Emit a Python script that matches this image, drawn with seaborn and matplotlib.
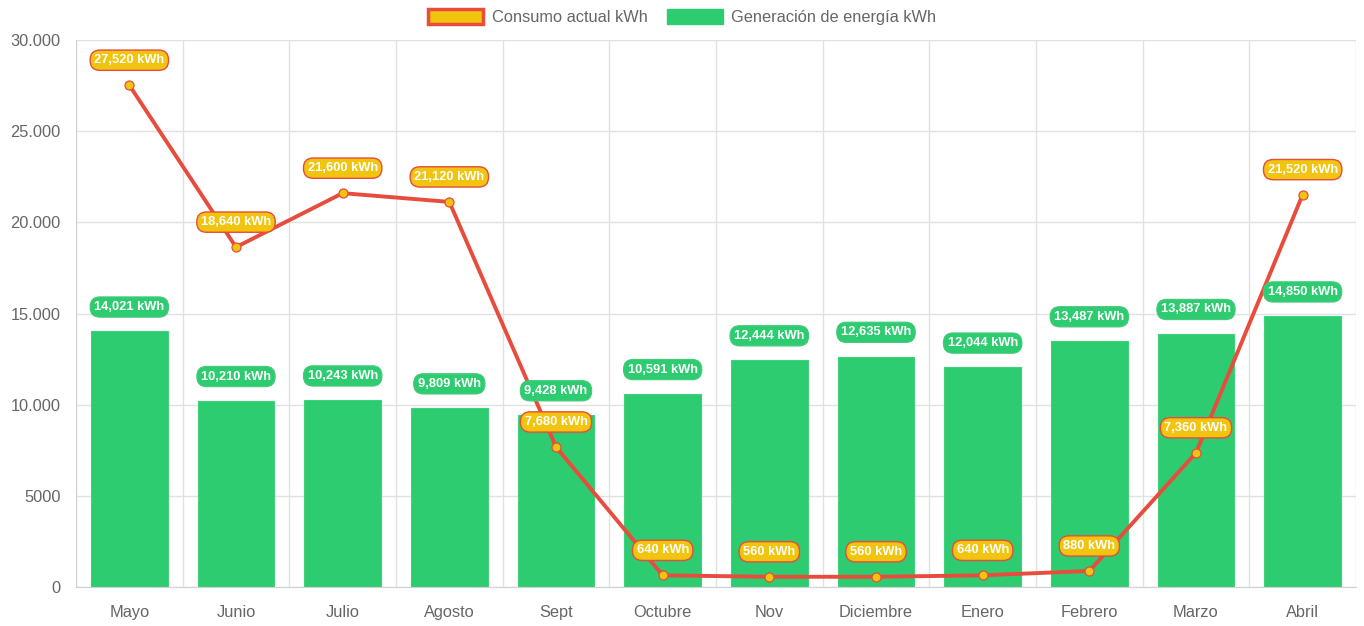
import numpy as np
import pandas as pd
import seaborn as sns
import matplotlib
matplotlib.use("Agg")
import matplotlib.pyplot as plt
from matplotlib.patches import Patch

meses = ["Mayo", "Junio", "Julio", "Agosto", "Sept", "Octubre", "Nov",
         "Diciembre", "Enero", "Febrero", "Marzo", "Abril"]
consumo = [27520, 18640, 21600, 21120, 7680, 640, 560, 560, 640, 880, 7360, 21520]
generacion = [14021, 10210, 10243, 9809, 9428, 10591, 12444, 12635, 12044, 13487, 13887, 14850]
y_ticks = [0, 5000, 10000, 15000, 20000, 25000, 30000]
y_labels = ["0", "5000", "10.000", "15.000", "20.000", "25.000", "30.000"]

verde = "#2ecc71"
rojo = "#e74c3c"
amarillo = "#f1c40f"
gris = "#666666"
rejilla = "#e1e1e1"

sns.set_style("white")
plt.rcParams["font.family"] = ["Liberation Sans", "DejaVu Sans"]

df = pd.DataFrame({"mes": meses, "consumo": consumo, "generacion": generacion})

fig = plt.figure(figsize=(13.64, 6.26), dpi=100)
ax = fig.add_axes([76 / 1364, 39 / 626, 1280 / 1364, 547 / 626])

# barras de generacion
sns.barplot(data=df, x="mes", y="generacion", color=verde, width=0.72,
            saturation=1, edgecolor="#3fd27e", linewidth=0.8, ax=ax, zorder=2)

# linea de consumo
x = np.arange(len(meses))
sns.lineplot(x=x, y=consumo, color=rojo, linewidth=2.8, ax=ax, zorder=3)
ax.plot(x, consumo, linestyle="none", marker="o", markersize=6.5,
        markerfacecolor=amarillo, markeredgecolor=rojo, markeredgewidth=0.9, zorder=4)

# etiquetas
for i, v in enumerate(generacion):
    ax.annotate(f"{v:,} kWh", (i, v), xytext=(0, 17.5), textcoords="offset points",
                ha="center", va="center", color="white", fontsize=9.3, fontweight="bold",
                bbox=dict(boxstyle="round,pad=0.32,rounding_size=0.75", fc=verde, ec="#45c97c", lw=0.8),
                zorder=5)
for i, v in enumerate(consumo):
    ax.annotate(f"{v:,} kWh", (i, v), xytext=(0, 18), textcoords="offset points",
                ha="center", va="center", color="white", fontsize=9.3, fontweight="bold",
                bbox=dict(boxstyle="round,pad=0.32,rounding_size=0.75", fc=amarillo, ec=rojo, lw=1.0),
                zorder=6)

ax.set_xlim(-0.5, len(meses) - 0.5)
ax.set_ylim(0, 30000)
ax.set_yticks(y_ticks)
ax.set_yticklabels(y_labels)
ax.set_xlabel("")
ax.set_ylabel("")

ax.set_xticks(np.arange(-0.5, len(meses)), minor=True)
ax.tick_params(axis="x", which="major", length=0, colors=gris, labelsize=11.8, pad=13)
ax.tick_params(axis="x", which="minor", length=8, color=rejilla, width=1)
ax.tick_params(axis="y", which="major", length=8, color=rejilla, labelcolor=gris, labelsize=11.8, pad=3)

ax.grid(axis="y", which="major", color=rejilla, linewidth=1, zorder=0)
ax.grid(axis="x", which="minor", color=rejilla, linewidth=1, zorder=0)
ax.set_axisbelow(True)
for s in ["top", "right"]:
    ax.spines[s].set_visible(False)
for s in ["left", "bottom"]:
    ax.spines[s].set_color("#d0d0d0")

handles = [Patch(facecolor=amarillo, edgecolor=rojo, linewidth=2.5, label="Consumo actual kWh"),
           Patch(facecolor=verde, edgecolor=verde, label="Generación de energía kWh")]
fig.legend(handles=handles, loc="center", bbox_to_anchor=(0.5, 1 - 17 / 626), ncol=2,
           frameon=False, fontsize=11.8, handlelength=3.4, handleheight=1.0,
           columnspacing=1.2, handletextpad=0.5, labelcolor=gris)

fig.savefig("out.png", dpi=100)
